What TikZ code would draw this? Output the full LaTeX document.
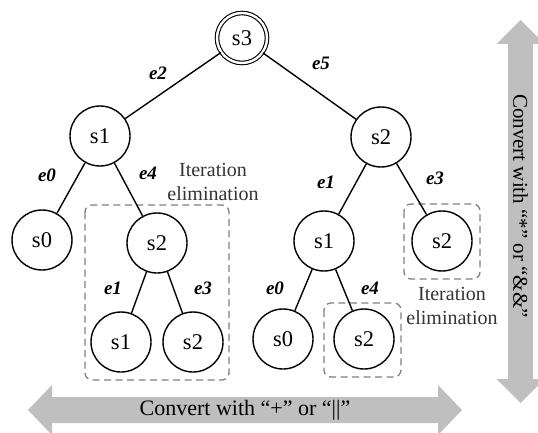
\documentclass[tikz,border=0pt]{standalone}
\usepackage{fontspec}
\setmainfont{Liberation Serif}
\begin{document}
\begin{tikzpicture}[x=1pt,y=-1pt,
  state/.style={circle,draw,line width=1.4pt,minimum size=60pt,inner sep=0pt,
    font=\fontsize{22.5}{24}\selectfont},
  rootstate/.style={state,minimum size=50pt,double,double distance=2.4pt,line width=1.1pt},
  link/.style={line width=1.4pt},
  elab/.style={font=\fontsize{19}{20}\selectfont\bfseries\itshape,inner sep=0pt},
  elimbox/.style={draw=black!50,dash pattern=on 7pt off 4.5pt,line width=1.3pt,rounded corners=7pt},
  elimnote/.style={align=center,inner sep=0pt,font=\fontsize{20}{23.5}\selectfont,text=black!80},
  band/.style={fill=black!25},
  bandtext/.style={inner sep=0pt,font=\fontsize{22}{24}\selectfont}]

\useasboundingbox (0,0) rectangle (538,433);

% double-headed grey arrows
\begin{scope}
  \clip (0,0) rectangle (538,433);
  \fill[band] (28,410) -- (52,385) -- (52,397) -- (438,397) -- (438,385) -- (462,410)
    -- (438,435) -- (438,423) -- (52,423) -- (52,435) -- cycle;
  \fill[band] (520.5,20) -- (544.5,44) -- (533,44) -- (533,379) -- (544.5,379) -- (520.5,403)
    -- (496.5,379) -- (508,379) -- (508,44) -- (496.5,44) -- cycle;
\end{scope}
\node[bandtext] (hlabel) at (245,410) {Convert with “+” or “||”};
\node[bandtext,rotate=-90,font=\fontsize{21}{24}\selectfont] (vlabel) at (520.5,206) {Convert with “*” or “\&\&”};

% iteration-elimination regions
\draw[elimbox] (85,205) rectangle (229,380);
\draw[elimbox] (324,303) rectangle (401,377);
\draw[elimbox] (404,204) rectangle (480,279);
\node[elimnote] (noteA) at (213,182) {Iteration\\elimination};
\node[elimnote] (noteB) at (452,306) {Iteration\\elimination};

% states
\node[rootstate] (r) at (242,38) {s3};
\node[state] (a) at (100,136) {s1};
\node[state] (b) at (381,137) {s2};
\node[state] (a0) at (42,240) {s0};
\node[state] (a4) at (157,243) {s2};
\node[state] (b1) at (324,241) {s1};
\node[state] (b3) at (442,241) {s2};
\node[state] (a41) at (121,342) {s1};
\node[state] (a43) at (193,342) {s2};
\node[state] (b10) at (283,339) {s0};
\node[state] (b14) at (364,339) {s2};

% transitions
\draw[link] (r) -- (a);
\draw[link] (r) -- (b);
\draw[link] (a) -- (a0);
\draw[link] (a) -- (a4);
\draw[link] (b) -- (b1);
\draw[link] (b) -- (b3);
\draw[link] (a4) -- (a41);
\draw[link] (a4) -- (a43);
\draw[link] (b1) -- (b10);
\draw[link] (b1) -- (b14);

% transition labels
\node[elab] (l1) at (158,73) {e2};
\node[elab] (l2) at (321,63) {e5};
\node[elab] (l3) at (47,175) {e0};
\node[elab] (l4) at (148,173) {e4};
\node[elab] (l5) at (326,182) {e1};
\node[elab] (l6) at (435,178) {e3};
\node[elab] (l7) at (113,288) {e1};
\node[elab] (l8) at (203,288) {e3};
\node[elab] (l9) at (275,288) {e0};
\node[elab] (l10) at (370,288) {e4};
\end{tikzpicture}
\end{document}
